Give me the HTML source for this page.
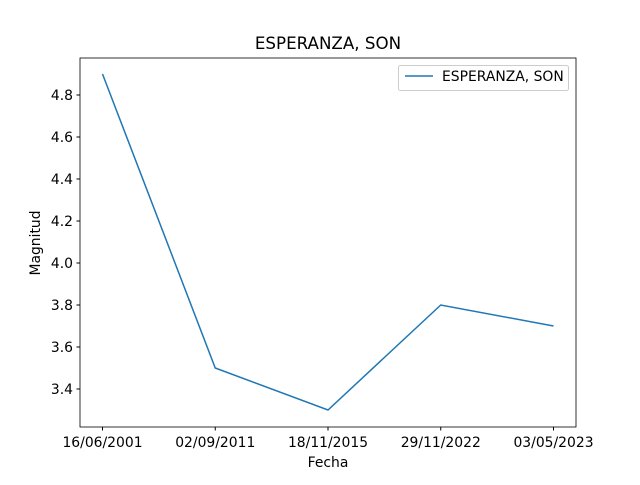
<!DOCTYPE html>
<html><head><meta charset="utf-8"><style>
body{margin:0;background:#fff;font-family:"Liberation Sans","DejaVu Sans",sans-serif;}
svg text{font-family:"DejaVu Sans","Liberation Sans",sans-serif;}
</style></head><body>
<svg id="chart" width="640" height="480">
<rect width="640" height="480" fill="#fff"/>
<text x="328" y="49" font-size="16.7" text-anchor="middle">ESPERANZA, SON</text>
<g id="xt"></g><g id="yt"></g>
<path id="line" fill="none" stroke="#1f77b4" stroke-width="1.5"/>
<rect x="80" y="58" width="496" height="369" fill="none" stroke="#000" stroke-width="0.8"/>
<text x="328" y="467" font-size="13.9" text-anchor="middle">Fecha</text>
<text transform="translate(40,243) rotate(-90)" font-size="13.9" text-anchor="middle">Magnitud</text>
<g>
<rect x="398.5" y="65.5" width="170" height="25" rx="2" fill="#fff" stroke="#ccc"/>
<line x1="405" y1="76" x2="433" y2="76" stroke="#1f77b4" stroke-width="1.5"/>
<text x="442" y="81" font-size="13.9">ESPERANZA, SON</text>
</g>
</svg>
<script>
const categories=["16/06/2001","02/09/2011","18/11/2015","29/11/2022","03/05/2023"];
const values=[4.9,3.5,3.3,3.8,3.7];
const yTicks=[3.4,3.6,3.8,4.0,4.2,4.4,4.6,4.8];
const ns="http://www.w3.org/2000/svg";
const x=i=>102.5+i*112.75;
const y=v=>410-(v-3.3)*210;
const xt=document.getElementById('xt'),yt=document.getElementById('yt');
categories.forEach((c,i)=>{
 const l=document.createElementNS(ns,'line');
 l.setAttribute('x1',x(i));l.setAttribute('x2',x(i));l.setAttribute('y1',427);l.setAttribute('y2',430.5);l.setAttribute('stroke','#000');
 
 
 xt.appendChild(l);
 const t=document.createElementNS(ns,'text');
 t.setAttribute('x',x(i));t.setAttribute('y',447);t.setAttribute('font-size','13.9');t.setAttribute('text-anchor','middle');t.textContent=c;
 
 
 xt.appendChild(t);
});
yTicks.forEach(v=>{
 const l=document.createElementNS(ns,'line');
 l.setAttribute('x1',76.5);l.setAttribute('x2',80);l.setAttribute('y1',y(v));l.setAttribute('y2',y(v));l.setAttribute('stroke','#000');
 
 
 yt.appendChild(l);
 const t=document.createElementNS(ns,'text');
 t.setAttribute('x',73);t.setAttribute('y',y(v)+5);t.setAttribute('font-size','13.9');t.setAttribute('text-anchor','end');t.textContent=v.toFixed(1);
 
 
 yt.appendChild(t);
});
document.getElementById('line').setAttribute('d',values.map((v,i)=>(i?'L':'M')+x(i)+','+y(v)).join(''));
</script>
</body></html>
